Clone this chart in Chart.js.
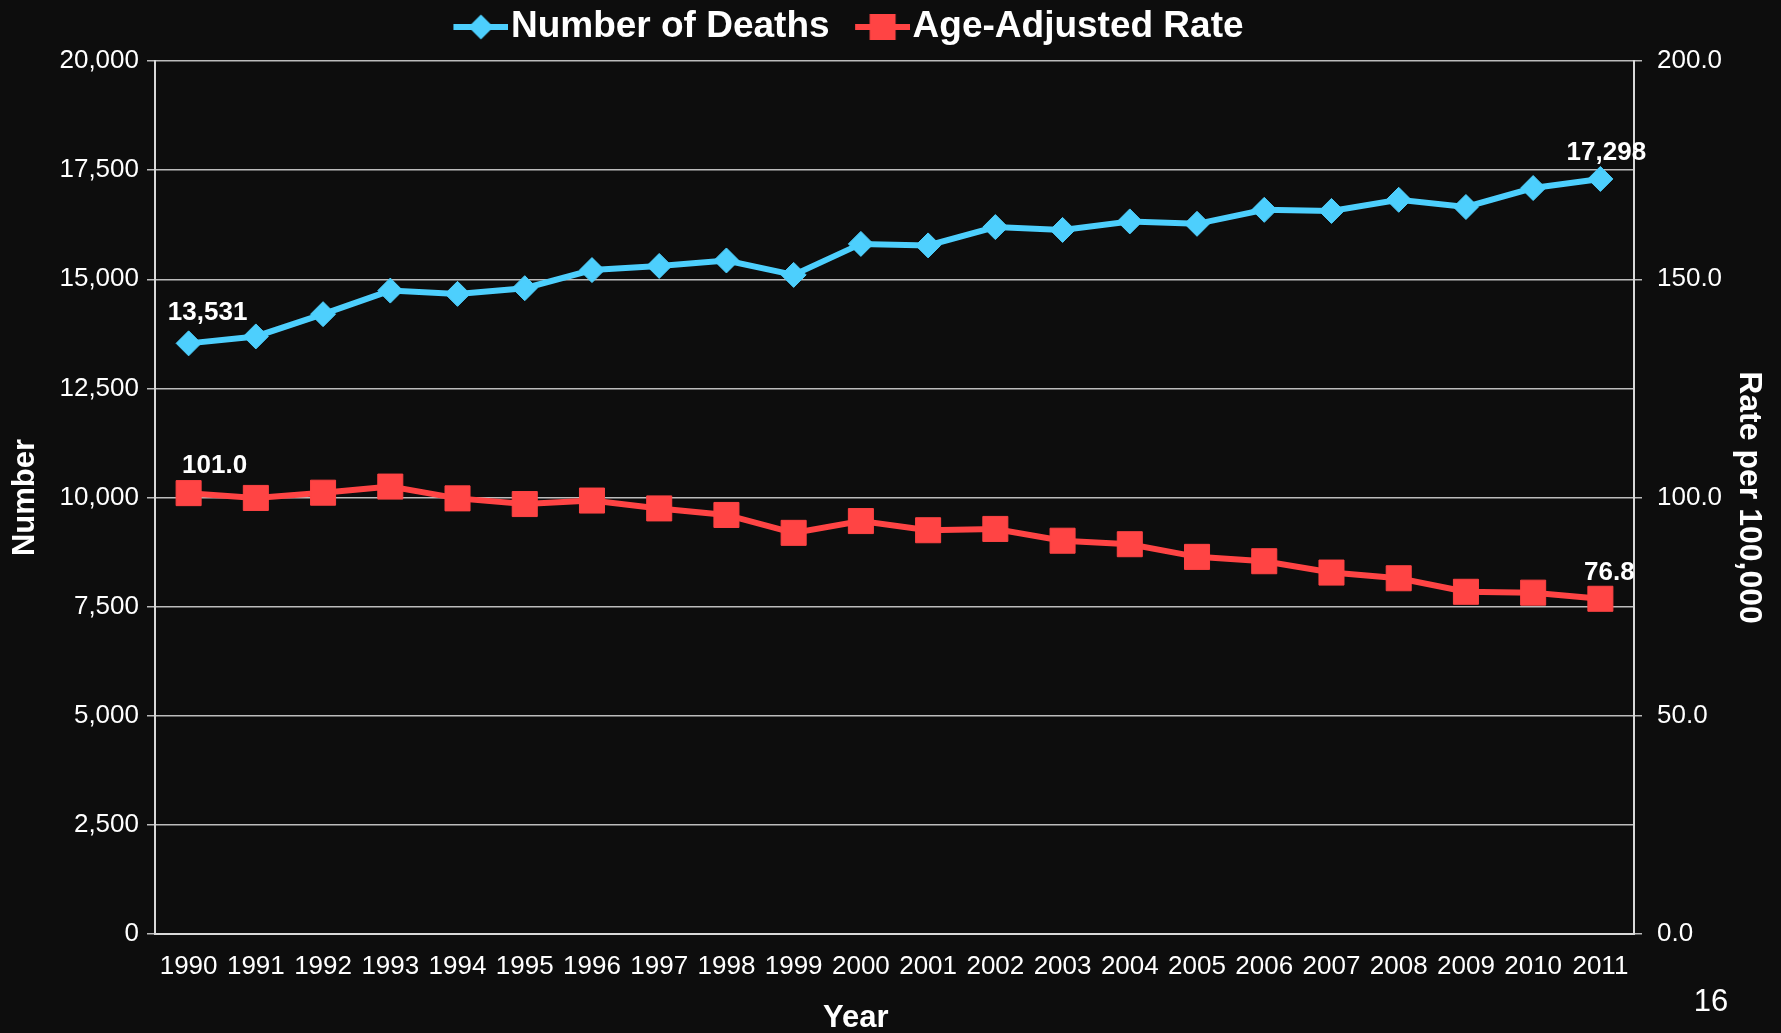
<!DOCTYPE html>
<html>
<head>
<meta charset="utf-8">
<script src="https://cdn.jsdelivr.net/npm/chart.js@4.4.1/dist/chart.umd.min.js"></script>
<style>
  html, body { margin: 0; padding: 0; background: #0d0d0d; }
  #wrap { position: relative; width: 1781px; height: 1033px; }
</style>
</head>
<body>
<div id="wrap"><canvas id="chart" width="1781" height="1033"></canvas></div>
<script>
// data
const years = ["1990", "1991", "1992", "1993", "1994", "1995", "1996", "1997", "1998", "1999", "2000",
  "2001", "2002", "2003", "2004", "2005", "2006", "2007", "2008", "2009", "2010", "2011"];
const deaths = [13531, 13690, 14200, 14740, 14665, 14795, 15210, 15305, 15430, 15100, 15810,
  15775, 16195, 16130, 16325, 16270, 16590, 16565, 16820, 16655, 17090, 17298];
const rates = [101.0, 99.9, 101.1, 102.5, 99.8, 98.5, 99.3, 97.5, 96.0, 91.9, 94.6,
  92.5, 92.8, 90.1, 89.3, 86.4, 85.4, 82.8, 81.5, 78.4, 78.2, 76.8];
const numberAxis = [0, 20000, 2500];   // min, max, step
const rateAxis = [0, 200, 50];
const seriesNames = ["Number of Deaths", "Age-Adjusted Rate"];
const pageNumber = "16";

const BLUE = "#4dcffd";
const RED = "#ff4444";
const WHITE = "#ffffff";
const GRID = "#bcbcbc";
const AXIS = "#d9d9d9";
const FONT = "'Liberation Sans', Arial, Helvetica, sans-serif";

Chart.defaults.font.family = FONT;
Chart.defaults.color = WHITE;

const fmtNumber = v => Number(v).toLocaleString("en-US");
const fmtRate = v => Number(v).toFixed(1);
const formatters = [fmtNumber, fmtRate];

// legend icon: line segment with the marker in the middle
function legendIcon(color, shape) {
  const c = document.createElement("canvas");
  c.width = 72;
  c.height = 30;
  const g = c.getContext("2d");
  g.strokeStyle = color;
  g.lineWidth = 6;
  g.beginPath();
  g.moveTo(17, 15);
  g.lineTo(72, 15);
  g.stroke();
  g.fillStyle = color;
  g.beginPath();
  if (shape === "diamond") {
    g.moveTo(44.5, 2.5);
    g.lineTo(57, 15);
    g.lineTo(44.5, 27.5);
    g.lineTo(32, 15);
    g.closePath();
  } else {
    g.rect(31.5, 2, 26, 26);
  }
  g.fill();
  return c;
}
const icons = [legendIcon(BLUE, "diamond"), legendIcon(RED, "square")];

// first / last value labels
const endLabels = {
  id: "endLabels",
  afterDatasetsDraw(chart) {
    const ctx = chart.ctx;
    // [dx, dy] for the first and the last point of each series
    const shifts = [[[19, 31], [6, 26]], [[26, 27], [9, 26]]];
    ctx.save();
    ctx.font = "bold 26px " + FONT;
    ctx.fillStyle = WHITE;
    ctx.textAlign = "center";
    ctx.textBaseline = "middle";
    chart.data.datasets.forEach((ds, d) => {
      const meta = chart.getDatasetMeta(d);
      const last = ds.data.length - 1;
      [[0, shifts[d][0]], [last, shifts[d][1]]].forEach(([i, sh]) => {
        const pt = meta.data[i];
        ctx.fillText(formatters[d](ds.data[i]), pt.x + sh[0], pt.y - sh[1]);
      });
    });
    ctx.restore();
  }
};

const pageNo = {
  id: "pageNo",
  afterDraw(chart) {
    const ctx = chart.ctx;
    ctx.save();
    ctx.font = "31px " + FONT;
    ctx.fillStyle = WHITE;
    ctx.textAlign = "center";
    ctx.textBaseline = "middle";
    ctx.fillText(pageNumber, 1711, 1002);
    ctx.restore();
  }
};

new Chart(document.getElementById("chart"), {
  type: "line",
  data: {
    labels: years,
    datasets: [
      {
        label: seriesNames[0],
        data: deaths,
        yAxisID: "y",
        borderColor: BLUE,
        backgroundColor: BLUE,
        borderWidth: 6,
        pointStyle: "rectRot",
        pointRadius: 12.5,
        pointHoverRadius: 12.5,
        pointBorderWidth: 1,
        tension: 0
      },
      {
        label: seriesNames[1],
        data: rates,
        yAxisID: "y1",
        borderColor: RED,
        backgroundColor: RED,
        borderWidth: 6,
        pointStyle: "rect",
        pointRadius: 17.7,
        pointHoverRadius: 17.7,
        pointBorderWidth: 1,
        tension: 0
      }
    ]
  },
  options: {
    responsive: false,
    animation: false,
    devicePixelRatio: 1,
    layout: { padding: { top: -16, left: -85, right: 0, bottom: 0 } },
    plugins: {
      tooltip: { enabled: false },
      legend: {
        position: "top",
        labels: {
          usePointStyle: true,
          pointStyleWidth: 40,
          padding: 24.5,
          color: WHITE,
          font: { size: 37, weight: "bold" },
          generateLabels(chart) {
            const items = Chart.defaults.plugins.legend.labels.generateLabels(chart);
            items.forEach((it, i) => { it.pointStyle = icons[i]; });
            return items;
          }
        }
      },
      // empty spacer between legend and plot
      title: {
        display: true,
        text: "",
        weight: 500,
        padding: 0,
        font: { size: 5.5, lineHeight: 1 }
      }
    },
    scales: {
      x: {
        offset: true,
        grid: { display: false, drawTicks: false },
        border: { display: true, color: AXIS, width: 2 },
        ticks: { color: WHITE, font: { size: 26 }, padding: 17, maxRotation: 0, autoSkip: false },
        title: {
          display: true,
          text: "Year" + "\u00a0".repeat(9),
          color: WHITE,
          font: { size: 31, weight: "bold" },
          padding: { top: 0, bottom: -4 }
        },
        afterFit(s) { s.height = 99; }
      },
      y: {
        position: "left",
        min: numberAxis[0],
        max: numberAxis[1],
        grid: { color: GRID, lineWidth: 1.5, tickLength: 8 },
        border: { display: true, color: AXIS, width: 2 },
        ticks: { stepSize: numberAxis[2], color: WHITE, font: { size: 26 }, padding: 8, callback: v => fmtNumber(v) },
        title: {
          display: true,
          text: "Number",
          color: WHITE,
          font: { size: 31, weight: "bold" },
          padding: { top: 91.4, bottom: 0 }
        },
        afterFit(s) { s.width = 240; }
      },
      y1: {
        position: "right",
        min: rateAxis[0],
        max: rateAxis[1],
        grid: { drawOnChartArea: false, color: GRID, lineWidth: 1.5, tickLength: 8 },
        border: { display: true, color: AXIS, width: 2 },
        ticks: { stepSize: rateAxis[2], color: WHITE, font: { size: 26 }, padding: 15, callback: v => fmtRate(v) },
        title: {
          display: true,
          text: "Rate per 100,000",
          color: WHITE,
          font: { size: 32, weight: "bold" },
          padding: { top: 12.8, bottom: 0 }
        },
        afterFit(s) { s.width = 147; }
      }
    }
  },
  plugins: [endLabels, pageNo]
});
</script>
</body>
</html>
